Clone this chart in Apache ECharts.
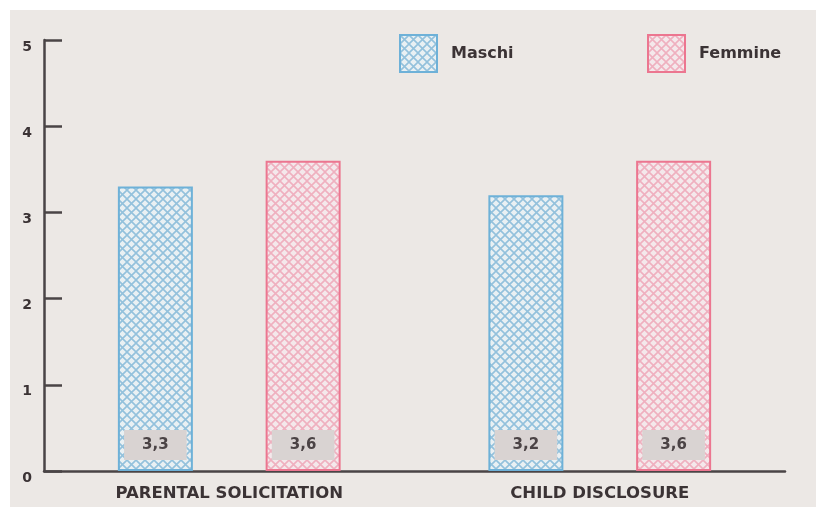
<!DOCTYPE html>
<html>
<head>
<meta charset="utf-8">
<script src="https://cdn.jsdelivr.net/npm/echarts@6/dist/echarts.min.js"></script>
<style>
  html, body { margin: 0; padding: 0; background: #ffffff; }
  #chart { position: absolute; left: 10px; top: 10px; width: 806px; height: 497px; }
</style>
</head>
<body>
<div id="chart"></div>
<script>
// Categories and values
const categories = ['PARENTAL SOLICITATION', 'CHILD DISCLOSURE'];
const maschi = [3.3, 3.2];
const femmine = [3.6, 3.6];
const yTicks = [0, 1, 2, 3, 4, 5];

// Cross-hatch tile used to fill the bars
function hatch(bg, line) {
  const s = 9;
  const c = document.createElement('canvas');
  c.width = s; c.height = s;
  const g = c.getContext('2d');
  g.fillStyle = bg;
  g.fillRect(0, 0, s, s);
  g.strokeStyle = line;
  g.lineWidth = 1.6;
  g.beginPath();
  g.moveTo(0, 0); g.lineTo(s, s);
  g.moveTo(s, 0); g.lineTo(0, s);
  g.stroke();
  return { image: c, repeat: 'repeat' };
}

const blueFill = hatch('#e9f0f3', '#93c1dc');
const pinkFill = hatch('#f4e8eb', '#efb0bf');
const blueEdge = '#6eb1d8';
const pinkEdge = '#ec7690';

const font = '"DejaVu Sans", sans-serif';
const ink = '#3b3335';

function valueLabel() {
  return {
    show: true,
    position: 'insideBottom',
    distance: 11,
    backgroundColor: '#d9d3d2',
    padding: [7, 18],
    color: '#4b4345',
    fontFamily: font,
    fontWeight: 'bold',
    fontSize: 15,
    lineHeight: 16,
    formatter: p => String(p.value).replace('.', ',')
  };
}

function legendBox(name, left, edge) {
  return {
    data: [name], left: left, top: 19, itemWidth: 37, itemHeight: 37,
    icon: 'rect',
    itemStyle: { borderColor: edge, borderWidth: 2 },
    textStyle: { color: ink, fontFamily: font, fontWeight: 'bold', fontSize: 16, padding: [0, 0, 0, 9] }
  };
}

const chart = echarts.init(document.getElementById('chart'));
chart.setOption({
  backgroundColor: '#ece8e5',
  animation: false,
  grid: { left: 34, right: 31, top: 30, bottom: 36 },
  legend: [
    legendBox('Maschi', 384, blueEdge),
    legendBox('Femmine', 632, pinkEdge)
  ],
  xAxis: {
    type: 'category',
    data: categories,
    axisLine: { lineStyle: { color: '#4a4446', width: 2.5 } },
    axisTick: { show: false },
    axisLabel: { color: ink, fontFamily: font, fontWeight: 'bold', fontSize: 16.5, margin: 14 }
  },
  yAxis: {
    type: 'value',
    min: yTicks[0],
    max: yTicks[yTicks.length - 1],
    interval: 1,
    splitLine: { show: false },
    axisLine: { show: true, lineStyle: { color: '#4a4446', width: 2.5 } },
    axisTick: { show: true, inside: true, length: 18, lineStyle: { color: '#4a4446', width: 2.5 } },
    axisLabel: { color: ink, fontFamily: font, fontWeight: 'bold', fontSize: 14, margin: 12, verticalAlign: 'top' }
  },
  series: [
    {
      name: 'Maschi', type: 'bar', data: maschi,
      barWidth: 75, barGap: '97%',
      itemStyle: { color: blueFill, borderColor: blueEdge, borderWidth: 2 },
      label: valueLabel()
    },
    {
      name: 'Femmine', type: 'bar', data: femmine,
      barWidth: 75,
      itemStyle: { color: pinkFill, borderColor: pinkEdge, borderWidth: 2 },
      label: valueLabel()
    }
  ]
});
</script>
</body>
</html>
